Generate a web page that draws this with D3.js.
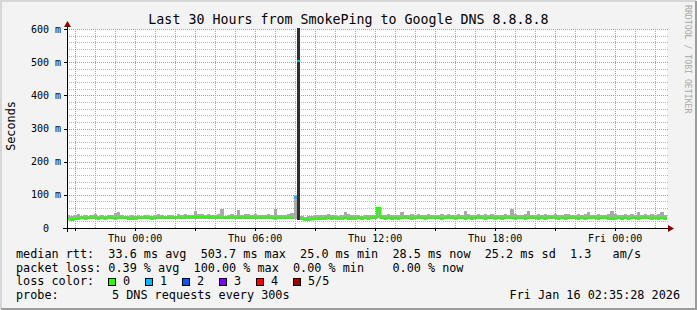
<!DOCTYPE html>
<html>
<head>
<meta charset="utf-8">
<script src="https://cdn.jsdelivr.net/npm/d3@7"></script>
<style>
  body { margin: 0; background: #fff; }
  svg { display: block; }
  text { font-family: "DejaVu Sans Mono", monospace; white-space: pre; }
</style>
</head>
<body>
<svg id="chart"></svg>
<script>
// 10 minute steps, Wed 20:35:28 -> Fri 02:35:28 (UTC)
const startTime = Date.UTC(2026, 0, 14, 20, 35, 28);
const endTime = Date.UTC(2026, 0, 16, 2, 35, 28);
const stepMs = 10 * 60 * 1000;

// median rtt in ms, one value per step
const median = [
  26, 25, 27, 29, 30, 29, 30, 31, 30, 29,
  30, 29, 31, 30, 29, 30, 31, 30, 29, 28,
  29, 30, 31, 30, 31, 29, 30, 30, 31, 30,
  31, 30, 32, 31, 30, 31, 32, 33, 32, 33,
  33, 32, 33, 32, 31, 32, 31, 30, 31, 32,
  31, 30, 31, 30, 31, 32, 31, 30, 31, 30,
  31, 30, 29, 31, 30, 30, 31, 30, 92, 503.7,
  27, 25, 25, 26, 28, 29, 28, 29, 30, 29,
  30, 29, 29, 30, 29, 28, 29, 30, 29, 30,
  29, 30, 31, 60, 30, 29, 30, 29, 30, 29,
  30, 31, 30, 29, 30, 31, 30, 29, 30, 30,
  31, 30, 29, 30, 31, 30, 29, 30, 30, 29,
  30, 29, 30, 31, 30, 29, 30, 30, 29, 30,
  29, 30, 31, 30, 29, 30, 30, 29, 30, 31,
  30, 29, 30, 29, 30, 31, 30, 29, 30, 29,
  30, 31, 30, 29, 30, 29, 30, 31, 30, 29,
  30, 31, 29, 28, 29, 30, 29, 30, 29, 30,
  30, 29, 30, 31, 30, 29, 30, 29, 30, 28.5
];

// fastest and slowest ping of each step (smoke)
const smokeLo = [
  23, 22, 24, 25, 26, 25, 26, 27, 26, 25,
  26, 25, 27, 26, 25, 26, 27, 26, 25, 24,
  25, 26, 27, 26, 27, 25, 26, 26, 27, 26,
  27, 26, 28, 27, 26, 27, 28, 28, 27, 28,
  28, 27, 28, 27, 26, 27, 26, 26, 27, 27,
  26, 26, 27, 26, 27, 27, 26, 26, 27, 26,
  27, 26, 25, 27, 26, 26, 27, 26, 27, 25,
  23, 22, 22, 23, 24, 25, 24, 25, 26, 25,
  26, 25, 25, 26, 25, 24, 25, 26, 25, 26,
  25, 26, 27, 30, 26, 25, 26, 25, 26, 25,
  26, 27, 26, 25, 26, 27, 26, 25, 26, 26,
  27, 26, 25, 26, 27, 26, 25, 26, 26, 25,
  26, 25, 26, 27, 26, 25, 26, 26, 25, 26,
  25, 26, 27, 26, 25, 26, 26, 25, 26, 27,
  26, 25, 26, 25, 26, 27, 26, 25, 26, 25,
  26, 27, 26, 25, 26, 25, 26, 27, 26, 25,
  26, 27, 25, 24, 25, 26, 25, 26, 25, 26,
  26, 25, 26, 27, 26, 25, 26, 25, 26, 25
];
const smokeHi = [
  38, 36, 40, 42, 37, 39, 36, 38, 41, 37,
  39, 36, 38, 40, 44, 48, 38, 37, 36, 39,
  37, 39, 36, 40, 38, 37, 39, 41, 38, 36,
  40, 38, 37, 41, 39, 42, 38, 40, 50, 43,
  41, 39, 42, 38, 40, 41, 58, 37, 40, 42,
  40, 54, 38, 41, 42, 40, 42, 39, 39, 40,
  41, 38, 57, 40, 39, 40, 42, 45, 98, 700,
  36, 34, 35, 37, 39, 40, 38, 39, 41, 38,
  40, 37, 39, 48, 41, 38, 39, 40, 37, 38,
  39, 40, 38, 62, 40, 39, 41, 40, 38, 39,
  47, 39, 40, 41, 38, 41, 40, 39, 42, 40,
  40, 38, 41, 39, 42, 40, 38, 41, 39, 52,
  41, 40, 39, 42, 40, 41, 38, 42, 40, 39,
  40, 42, 39, 57, 41, 40, 38, 41, 50, 39,
  40, 41, 39, 42, 40, 38, 41, 40, 39, 42,
  41, 40, 39, 42, 40, 41, 48, 39, 40, 41,
  40, 39, 42, 50, 41, 40, 39, 42, 40, 41,
  40, 48, 39, 41, 40, 42, 39, 41, 48, 40
];

// lost pings (out of 5) per step
const lossCount = median.map((d, i) => (i === 68 || i === 69) ? 1 : 0);

const lossLabels = ["0", "1", "2", "3", "4", "5/5"];
const lossColors = ["#26ff00", "#00b8ff", "#0059ff", "#7e00ff", "#ff0000", "#a10000"];

const titleText = "Last 30 Hours from SmokePing to Google DNS 8.8.8.8";
const legendRtt = "median rtt:  33.6 ms avg  503.7 ms max  25.0 ms min  28.5 ms now  25.2 ms sd  1.3   am/s";
const legendLoss = "packet loss: 0.39 % avg  100.00 % max  0.00 % min    0.00 % now";
const probeText = "5 DNS requests every 300s";
const stampText = "Fri Jan 16 02:35:28 2026";

const width = 697, height = 310;
const plot = { left: 67, right: 667, top: 29, bottom: 228 };

const svg = d3.select("#chart").attr("width", width).attr("height", height);

// background and 3d border
svg.append("rect").attr("width", width).attr("height", height).attr("fill", "#f3f3f3");
svg.append("path").attr("d", `M1,${height - 1}V1H${width - 1}`)
  .attr("fill", "none").attr("stroke", "#d6d6d6").attr("stroke-width", 2);
svg.append("path").attr("d", `M1,${height - 1}H${width - 1}V1`)
  .attr("fill", "none").attr("stroke", "#9c9c9c").attr("stroke-width", 2);

const x = d3.scaleUtc().domain([startTime, endTime]).range([plot.left, plot.right]);
const y = d3.scaleLinear().domain([0, 600]).range([plot.bottom, plot.top]);

svg.append("rect")
  .attr("x", plot.left).attr("y", plot.top)
  .attr("width", plot.right - plot.left).attr("height", plot.bottom - plot.top)
  .attr("fill", "#fff");

// grid
const grid = svg.append("g").attr("stroke-dasharray", "1,1").attr("stroke-width", 1)
  .attr("shape-rendering", "crispEdges");
const yMinor = d3.range(20, 601, 20).filter(v => v % 100 !== 0);
const yMajor = d3.range(100, 601, 100);
const xMinor = x.ticks(d3.utcHour.every(1)).filter(t => t.getUTCHours() % 3 !== 0);
const xMajor = x.ticks(d3.utcHour.every(3));

grid.selectAll(".ymin").data(yMinor).enter().append("line")
  .attr("x1", plot.left).attr("x2", plot.right + 2)
  .attr("y1", d => Math.round(y(d)) + 0.5).attr("y2", d => Math.round(y(d)) + 0.5)
  .attr("stroke", "#b8b8b8");
grid.selectAll(".xmin").data(xMinor).enter().append("line")
  .attr("x1", d => Math.round(x(d)) + 0.5).attr("x2", d => Math.round(x(d)) + 0.5)
  .attr("y1", plot.top).attr("y2", plot.bottom)
  .attr("stroke", "#a8a8a8");
grid.selectAll(".ymaj").data(yMajor).enter().append("line")
  .attr("x1", plot.left).attr("x2", plot.right + 2)
  .attr("y1", d => Math.round(y(d)) + 0.5).attr("y2", d => Math.round(y(d)) + 0.5)
  .attr("stroke", "#ee7e7e");
grid.selectAll(".xmaj").data(xMajor).enter().append("line")
  .attr("x1", d => Math.round(x(d)) + 0.5).attr("x2", d => Math.round(x(d)) + 0.5)
  .attr("y1", plot.top).attr("y2", plot.bottom)
  .attr("stroke", "#ee7e7e");

// data, clipped to the canvas
svg.append("clipPath").attr("id", "clip").append("rect")
  .attr("x", plot.left).attr("y", plot.top - 1)
  .attr("width", plot.right - plot.left).attr("height", plot.bottom - plot.top + 1);
const data = svg.append("g").attr("clip-path", "url(#clip)");

const steps = median.map((m, i) => ({
  t0: startTime + i * stepMs,
  t1: startTime + (i + 1) * stepMs,
  median: m, lo: smokeLo[i], hi: smokeHi[i], loss: lossCount[i]
}));

data.selectAll(".smoke").data(steps).enter().append("rect")
  .attr("x", d => x(d.t0))
  .attr("width", d => x(d.t1) - x(d.t0))
  .attr("y", d => y(d.hi))
  .attr("height", d => y(d.lo) - y(d.hi))
  .attr("fill", d => (d.hi - d.lo > 80) ? "#2e2e2e" : "#a9a9a9")
  .attr("shape-rendering", "crispEdges");

// median line, one run per loss class (broken where it jumps off scale)
const runs = [];
steps.forEach((d, i) => {
  const last = runs[runs.length - 1];
  const jump = i > 0 && Math.abs(d.median - steps[i - 1].median) > 100;
  if (last && last.loss === d.loss && !jump) last.pts.push(d);
  else runs.push({ loss: d.loss, pts: [d] });
});
const line = d3.line().x(p => x(p[0])).y(p => y(p[1]));
data.selectAll(".median").data(runs).enter().append("path")
  .attr("fill", "none")
  .attr("stroke", r => lossColors[r.loss])
  .attr("stroke-width", 2)
  .attr("d", r => {
    const pts = [];
    r.pts.forEach(d => { pts.push([d.t0, d.median]); pts.push([d.t1, d.median]); });
    return line(pts);
  });

// axes
const axis = svg.append("g").attr("stroke", "#000").attr("stroke-width", 1);
axis.append("line").attr("x1", plot.left - 4).attr("x2", plot.right + 2)
  .attr("y1", plot.bottom + 0.5).attr("y2", plot.bottom + 0.5);
axis.append("line").attr("x1", plot.left + 0.5).attr("x2", plot.left + 0.5)
  .attr("y1", plot.bottom + 4).attr("y2", plot.top - 3);
axis.selectAll(".yt").data(yMajor).enter().append("line")
  .attr("x1", plot.left - 3).attr("x2", plot.left)
  .attr("y1", d => Math.round(y(d)) + 0.5).attr("y2", d => Math.round(y(d)) + 0.5);
axis.selectAll(".xt").data(xMajor).enter().append("line")
  .attr("x1", d => Math.round(x(d)) + 0.5).attr("x2", d => Math.round(x(d)) + 0.5)
  .attr("y1", plot.bottom).attr("y2", plot.bottom + 3);

svg.append("path")
  .attr("d", `M${plot.right + 1},${plot.bottom - 3}L${plot.right + 7},${plot.bottom + 0.5}L${plot.right + 1},${plot.bottom + 4}Z`)
  .attr("fill", "#8b0000");
svg.append("path")
  .attr("d", `M${plot.left - 3},${plot.top - 2}L${plot.left + 0.5},${plot.top - 8}L${plot.left + 4},${plot.top - 2}Z`)
  .attr("fill", "#8b0000");

// tick labels
svg.selectAll(".ylab").data(d3.range(0, 601, 100)).enter().append("text")
  .attr("x", 61).attr("y", d => y(d) + 3.5)
  .attr("text-anchor", "end").attr("font-size", 10)
  .text(d => d === 0 ? "0  " : d + " m");

svg.selectAll(".xlab").data(x.ticks(d3.utcHour.every(6))).enter().append("text")
  .attr("x", d => x(d)).attr("y", 242)
  .attr("text-anchor", "middle").attr("font-size", 10)
  .text(d3.utcFormat("%a %H:%M"));

// titles
svg.append("text").attr("x", 348.5).attr("y", 23.5)
  .attr("text-anchor", "middle").attr("font-size", 13.3).text(titleText);
svg.append("text").attr("transform", "translate(14.5,126) rotate(-90)")
  .attr("text-anchor", "middle").attr("font-size", 11.8).text("Seconds");
svg.append("text").attr("transform", "translate(685,5) rotate(90)")
  .attr("font-size", 8.2).attr("fill", "#a8a8a8").text("RRDTOOL / TOBI OETIKER");

// legend
const fs = 11.8;
svg.append("text").attr("x", 16).attr("y", 258).attr("font-size", fs).text(legendRtt);
svg.append("text").attr("x", 16).attr("y", 271.5).attr("font-size", fs).text(legendLoss);
svg.append("text").attr("x", 16).attr("y", 285).attr("font-size", fs).text("loss color:");
const sw = svg.selectAll(".sw").data(lossLabels).enter().append("g")
  .attr("transform", (d, i) => `translate(${108 + i * 37},278)`);
sw.append("rect").attr("x", 0.5).attr("y", 0.5).attr("width", 7).attr("height", 7)
  .attr("fill", (d, i) => lossColors[i]).attr("stroke", "#000");
sw.append("text").attr("x", 15).attr("y", 7).attr("font-size", fs).text(d => d);
svg.append("text").attr("x", 16).attr("y", 298.5).attr("font-size", fs).text("probe:");
svg.append("text").attr("x", 112).attr("y", 298.5).attr("font-size", fs).text(probeText);
svg.append("text").attr("x", 680).attr("y", 298.5).attr("text-anchor", "end")
  .attr("font-size", fs).text(stampText);
</script>
</body>
</html>
